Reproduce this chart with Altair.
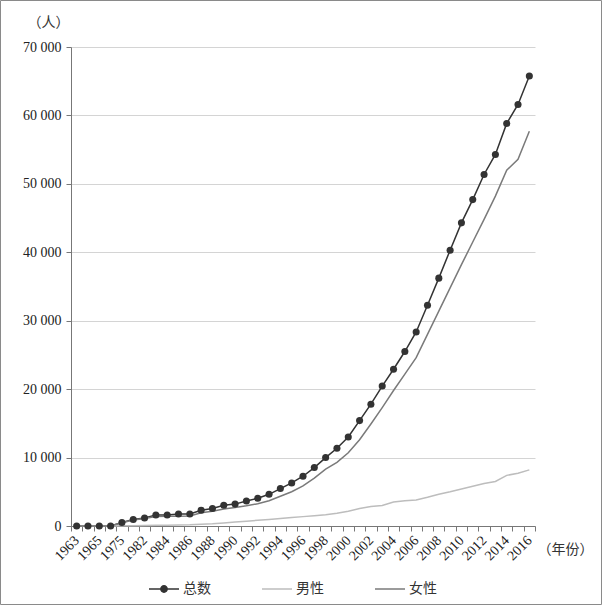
import altair as alt
import pandas as pd

years = ["1963", "1964", "1965", "1970", "1975", "1980", "1982", "1983", "1984", "1985",
         "1986", "1987", "1988", "1989", "1990", "1991", "1992", "1993", "1994", "1995",
         "1996", "1997", "1998", "1999", "2000", "2001", "2002", "2003", "2004", "2005",
         "2006", "2007", "2008", "2009", "2010", "2011", "2012", "2013", "2014", "2015", "2016"]
label_years = ["1963", "1965", "1975", "1982", "1984", "1986", "1988", "1990", "1992", "1994",
               "1996", "1998", "2000", "2002", "2004", "2006", "2008", "2010", "2012", "2014", "2016"]

total = [0, 0, 0, 0, 500, 940, 1170, 1610, 1610, 1760,
         1760, 2300, 2550, 3030, 3200, 3650, 4050, 4630, 5470, 6290,
         7270, 8540, 10000, 11360, 13010, 15400, 17800, 20450, 22910, 25500,
         28360, 32270, 36220, 40310, 44300, 47700, 51370, 54300, 58830, 61610, 65750]
male = [0, 0, 0, 0, 20, 50, 80, 100, 120, 150,
        180, 250, 330, 450, 570, 700, 830, 960, 1100, 1230,
        1370, 1500, 1650, 1850, 2150, 2550, 2850, 3000, 3500, 3700,
        3800, 4200, 4650, 5000, 5400, 5800, 6200, 6500, 7400, 7700, 8200]
female = [0, 0, 0, 0, 470, 880, 1080, 1400, 1420, 1440,
          1460, 1950, 2150, 2500, 2700, 2950, 3250, 3700, 4350, 5000,
          5850, 7000, 8300, 9300, 10700, 12600, 14900, 17300, 19800, 22200,
          24600, 28000, 31400, 34800, 38200, 41500, 44800, 48200, 52000, 53600, 57700]

series_names = ["总数", "男性", "女性"]
series_colors = ["#333333", "#bdbdbd", "#7a7a7a"]

rows = []
for name, vals in zip(series_names, [total, male, female]):
    for y, v in zip(years, vals):
        rows.append({"year": y, "value": v, "series": name})
df = pd.DataFrame(rows)

W, H = 464, 479
SERIF = "Liberation Serif"
CJK = "Noto Sans CJK SC"

total_path = ("M-1,0L1,0M-0.21,0A0.21,0.21,0,1,0,0.21,0A0.21,0.21,0,1,0,-0.21,0Z")
sym_expr = "datum.value == '总数' ? '" + total_path + "' : 'M-1,0L1,0'"

x_enc = alt.X(
    "year:O", sort=years,
    scale=alt.Scale(type="band", paddingInner=0, paddingOuter=0),
    axis=alt.Axis(
        title="（年份）", titleFont=CJK, titleFontSize=14, titleFontWeight="normal",
        titleColor="#333", titleAngle=0, titleAlign="left", titleBaseline="middle",
        titleX=W + 2, titleY=23,
        labelAngle=-45, labelAlign="right", labelBaseline="middle",
        labelFont=SERIF, labelFontSize=14, labelColor="#222", labelPadding=7,
        labelExpr="indexof(" + str(label_years) + ", datum.label) >= 0 ? datum.label : ''",
        labelOverlap=False, tickBand="extent", tickSize=5, tickColor="#777",
        domainColor="#777", grid=False,
    ),
)
y_enc = alt.Y(
    "value:Q",
    scale=alt.Scale(domain=[0, 70000], nice=False),
    axis=alt.Axis(
        values=[0, 10000, 20000, 30000, 40000, 50000, 60000, 70000],
        labelExpr="replace(format(datum.value, ','), ',', ' ')",
        labelFont=SERIF, labelFontSize=14, labelColor="#222", labelPadding=5,
        tickSize=5, tickColor="#777", domainColor="#777",
        grid=True, gridColor="#d4d4d4", gridWidth=1,
        title="（人）", titleFont=CJK, titleFontSize=14, titleFontWeight="normal",
        titleColor="#333", titleAngle=0, titleAlign="left", titleBaseline="middle",
        titleX=-44, titleY=-25,
    ),
)

lines = alt.Chart(df).mark_line(strokeWidth=1.5).encode(
    x=x_enc, y=y_enc,
    color=alt.Color(
        "series:N",
        scale=alt.Scale(domain=series_names, range=series_colors),
        legend=alt.Legend(
            title=None, orient="none", direction="horizontal",
            legendX=77, legendY=526,
            symbolType=alt.ExprRef(sym_expr),
            symbolSize=900, symbolStrokeWidth=1.5,
            symbolFillColor="#333333",
            labelFont=CJK, labelFontSize=14, labelColor="#333",
            labelOffset=3, columnPadding=48,
        ),
    ),
    detail="series:N",
)

points = alt.Chart(df).transform_filter(
    alt.datum.series == "总数"
).mark_point(filled=True, size=50, color="#333333", opacity=1).encode(
    x=alt.X("year:O", sort=years), y="value:Q",
)

frame = alt.Chart(pd.DataFrame({"f": [1]})).mark_rect(
    fill=None, stroke="#8a8a8a", strokeWidth=1
).encode(
    x=alt.value(-70.5), x2=alt.value(W + 66.5), y=alt.value(-46.5), y2=alt.value(H + 78.5)
)

chart = alt.layer(lines, points, frame).properties(
    width=W, height=H,
    autosize=alt.AutoSizeParams(type="none"),
    padding={"left": 71, "top": 47, "right": 602 - 71 - W, "bottom": 605 - 47 - H},
    background="white",
).configure_view(stroke=None)

chart.save("out.html", embed_options={"renderer": "svg", "actions": False})
